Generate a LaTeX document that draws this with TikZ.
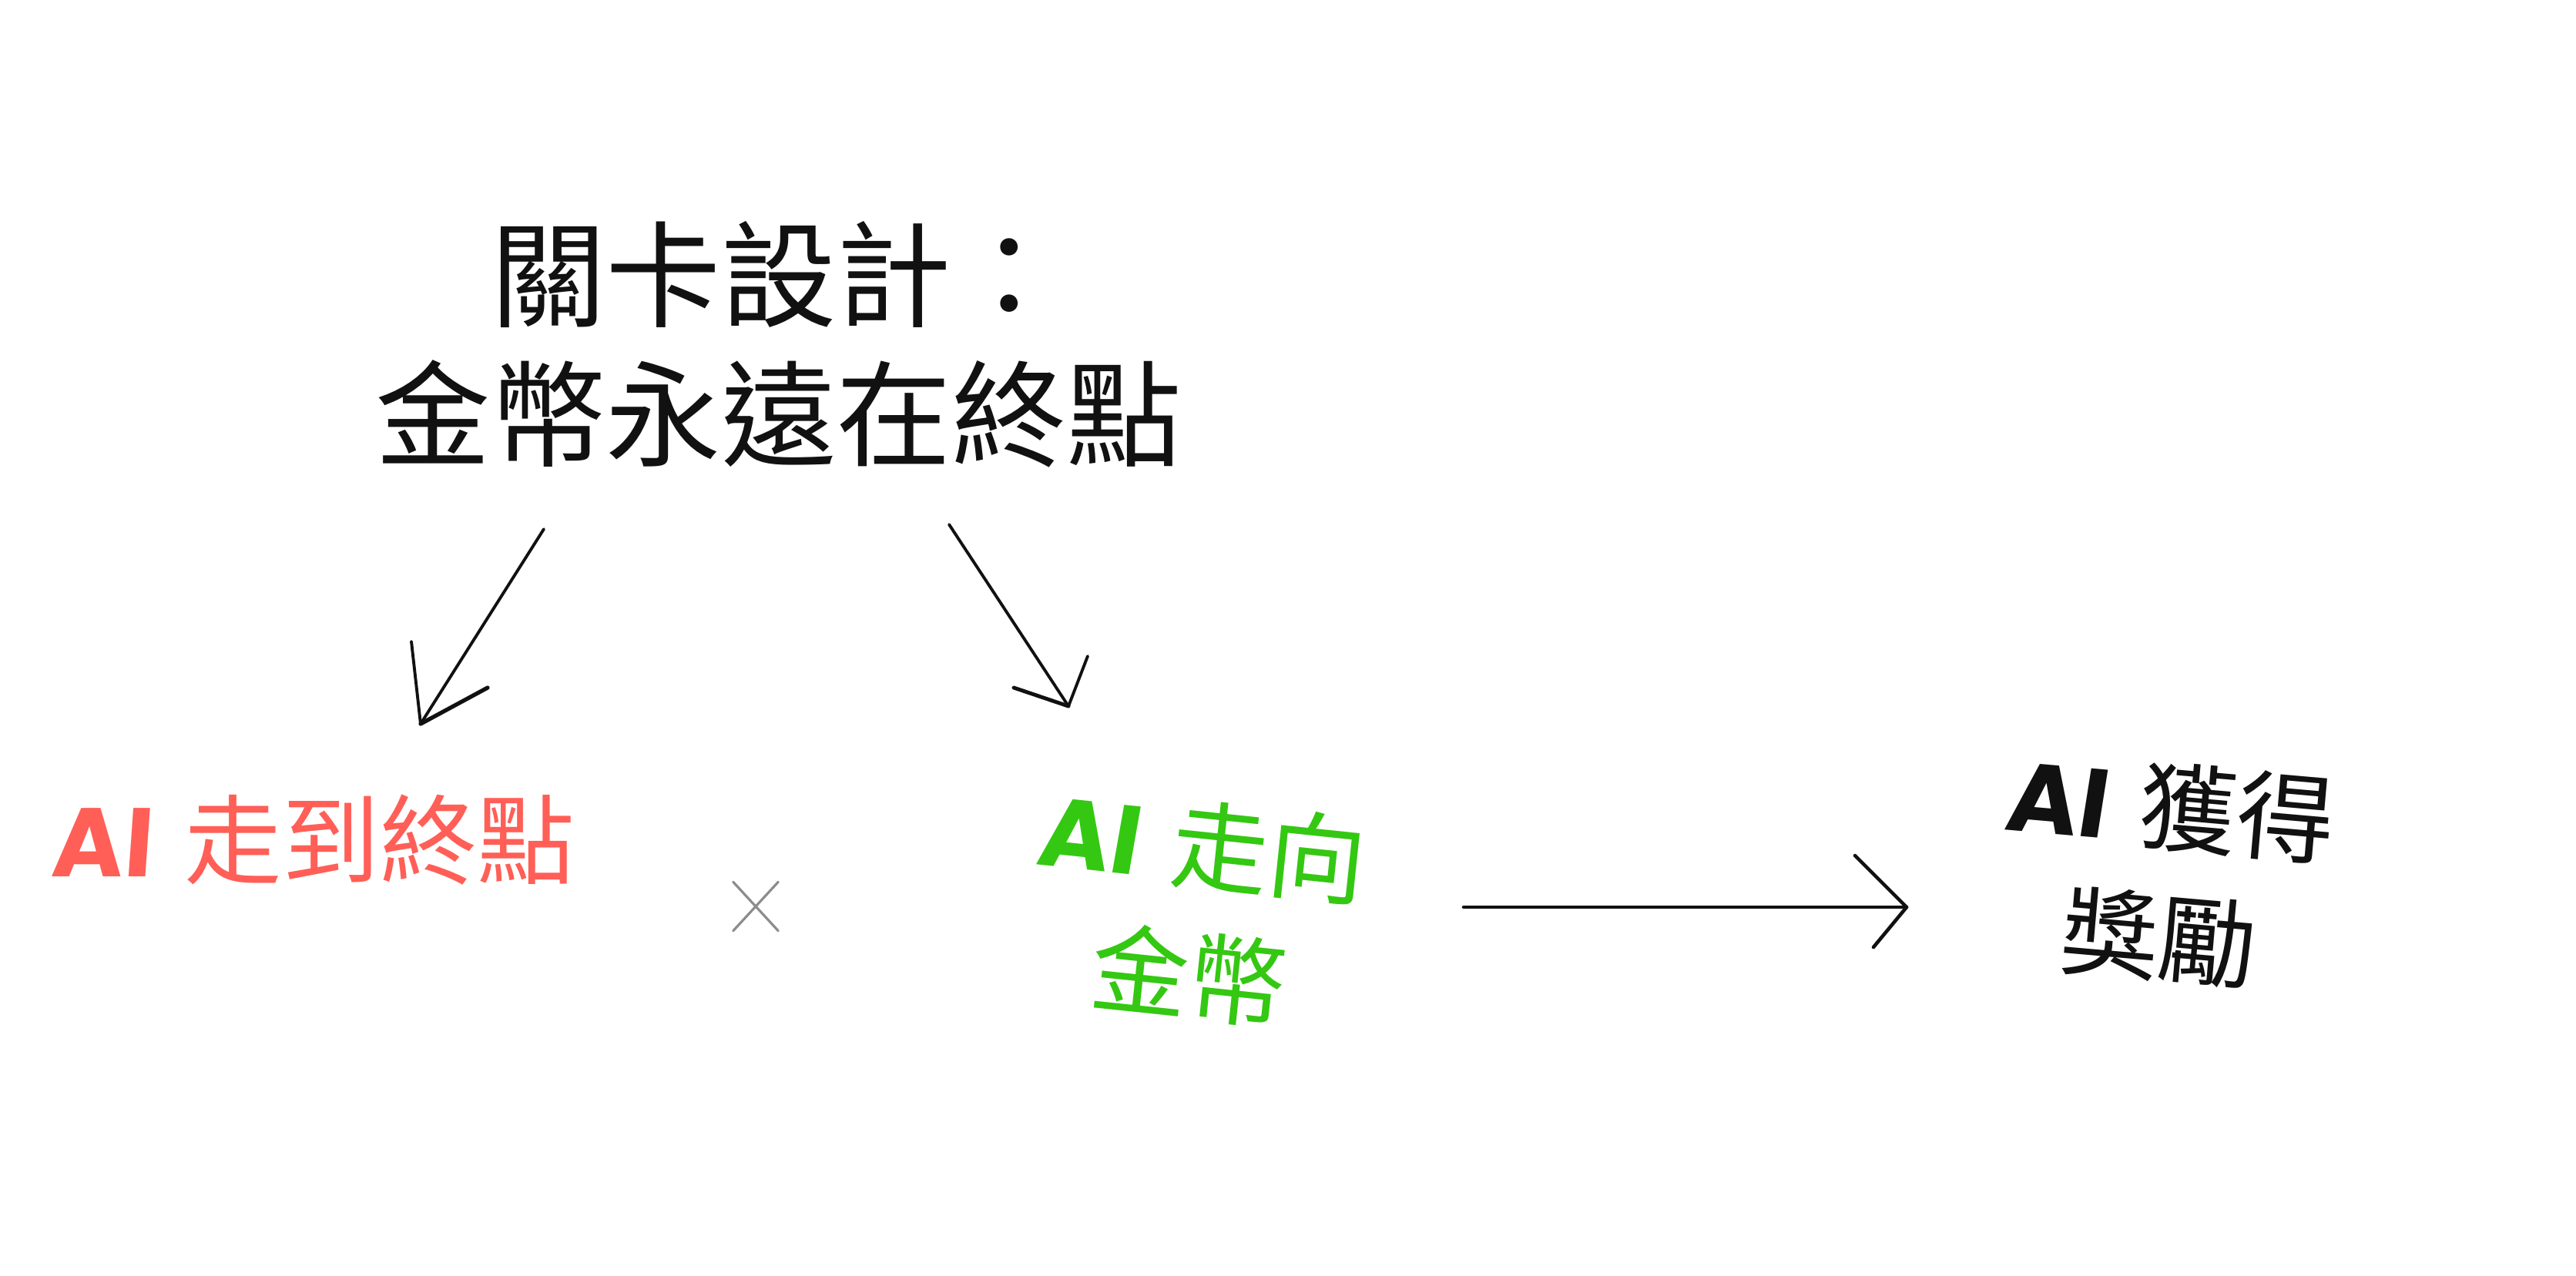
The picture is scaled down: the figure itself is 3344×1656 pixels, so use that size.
\documentclass[tikz,border=0pt]{standalone}
\usepackage{fontspec}
\setmainfont{Noto Sans CJK TC}
\newfontfamily\aifont{Poppins}[FakeSlant=0.07]
\newcommand\AIword{{\aifont\bfseries AI}\hspace{0.12em}}
\definecolor{redc}{HTML}{FF5F57}
\definecolor{greenc}{HTML}{34C812}
\definecolor{inkc}{HTML}{111111}
\definecolor{crossc}{HTML}{8C8C8C}
\begin{document}
\begin{tikzpicture}[x=0.01cm,y=-0.01cm,
  titletext/.style={font=\fontsize{42.5}{51.5}\selectfont, text=inkc, align=center, inner sep=0pt},
  labeltext/.style={font=\fontsize{36}{48.5}\selectfont, align=center, inner sep=0pt},
  arrowline/.style={draw=inkc, line width=1.1pt, line cap=round, line join=round},
  crossline/.style={draw=crossc, line width=0.9pt, line cap=round}]
\useasboundingbox[fill=white] (0,0) rectangle (3344,1656);

\node[titletext] (title) at (1011,447) {關卡設計：\\金幣永遠在終點};

\node[labeltext, text=redc] (red) at (406,1090) {\AIword{} 走到終點};
\node[labeltext, text=greenc, rotate=-6] (green) at (1552,1182) {\AIword{} 走向\\金幣};
\node[labeltext, text=inkc, rotate=-5] (reward) at (2810,1133) {\AIword{} 獲得\\獎勵};

\node[minimum width=0.57cm, minimum height=0.62cm, inner sep=0pt] (cross) at (981,1177) {};
\draw[crossline] (cross.north west) -- (cross.south east);
\draw[crossline] (cross.north east) -- (cross.south west);

% arrow 1
\coordinate (a1s) at (706,687);
\coordinate (a1t) at (546,940);
\coordinate (a1b1) at (534,833);
\coordinate (a1b2) at (633,893);
\draw[arrowline] (a1s) -- (a1t);
\draw[arrowline] (a1b1) -- (a1t);
\draw[arrowline, line width=1.5pt] (a1t) -- (a1b2);

% arrow 2
\coordinate (a2s) at (1232,681);
\coordinate (a2t) at (1387,917);
\coordinate (a2b1) at (1316,893);
\coordinate (a2b2) at (1412,852);
\draw[arrowline] (a2s) -- (a2t);
\draw[arrowline, line width=1.4pt] (a2b1) -- (a2t);
\draw[arrowline] (a2t) -- (a2b2);

% arrow 3
\coordinate (a3s) at (1900,1178);
\coordinate (a3t) at (2475,1178);
\coordinate (a3b1) at (2408,1111);
\coordinate (a3b2) at (2432,1230);
\draw[arrowline, line width=1.3pt] (a3s) -- (a3t);
\draw[arrowline, line width=1.3pt] (a3b1) -- (a3t) -- (a3b2);
\end{tikzpicture}
\end{document}
